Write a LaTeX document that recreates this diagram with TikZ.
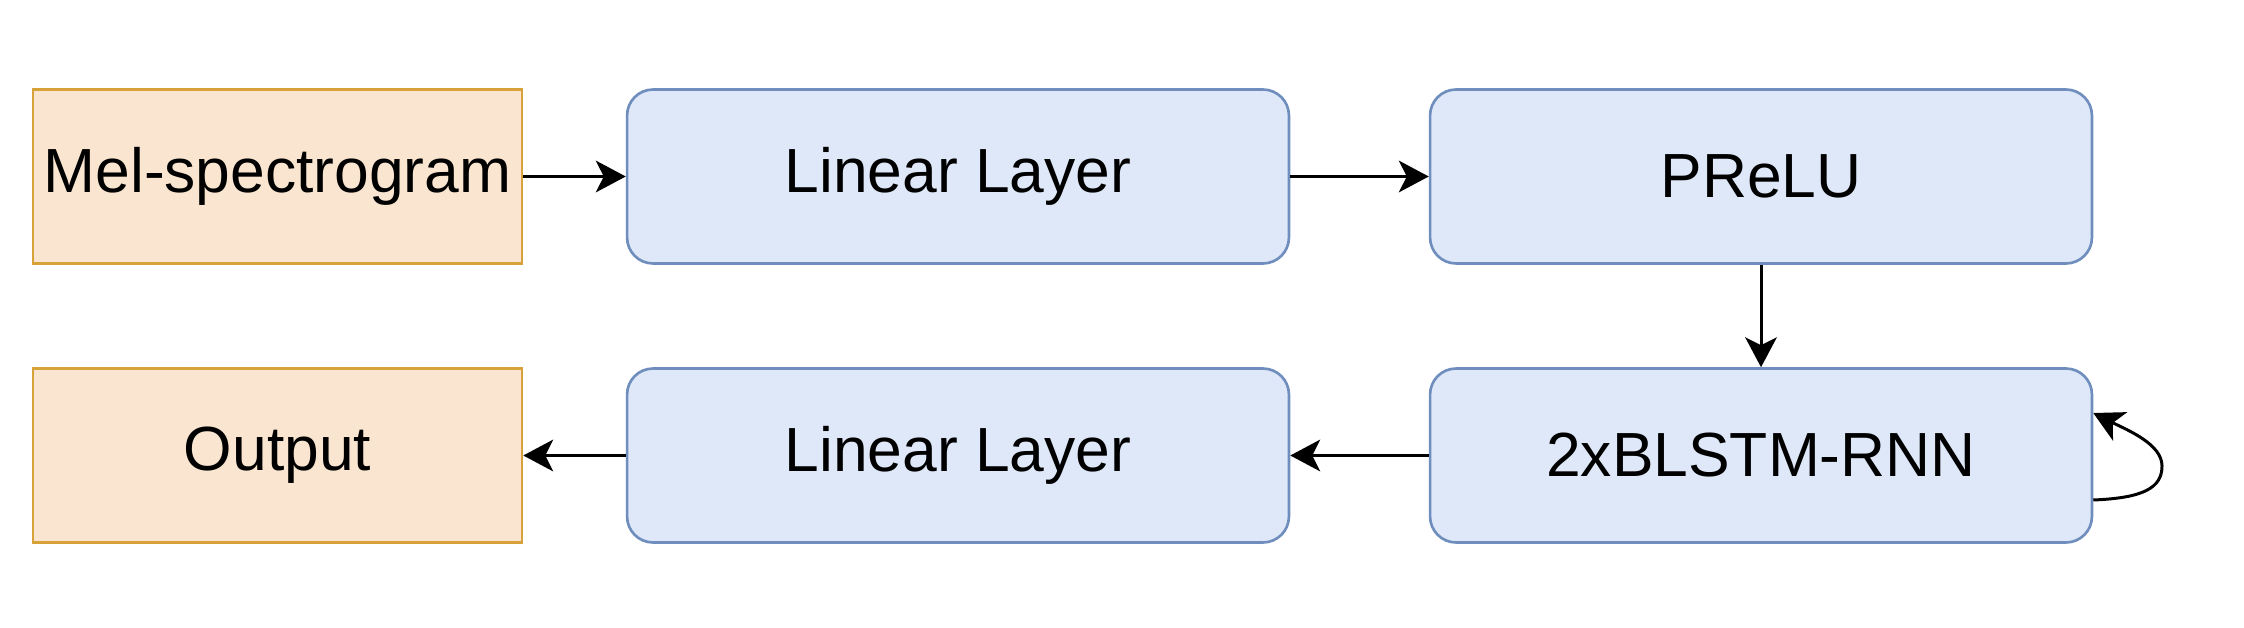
\documentclass[tikz,border=0pt]{standalone}
\usepackage{fontspec}
\setmainfont{Liberation Sans}
\usetikzlibrary{arrows.meta}
\definecolor{ofill}{HTML}{FAE6D0}
\definecolor{odraw}{HTML}{D6A239}
\definecolor{bfill}{HTML}{DEE8F8}
\definecolor{bdraw}{HTML}{6F8EBE}
\tikzset{
  iobox/.style={draw=odraw, fill=ofill, line width=1.5pt, rectangle, inner sep=0pt,
    minimum width=9.78cm, minimum height=3.48cm, font=\fontsize{35.5}{42}\selectfont},
  layerbox/.style={draw=bdraw, fill=bfill, line width=1.5pt, rectangle, rounded corners=0.52cm,
    inner sep=0pt, minimum width=13.24cm, minimum height=3.48cm, font=\fontsize{35.5}{42}\selectfont},
  flow/.style={draw=black, line width=1.7pt, -{Stealth[length=17pt, width=18pt, inset=4.5pt]}},
}
\begin{document}
\begin{tikzpicture}[x=0.02cm, y=-0.02cm]
\useasboundingbox (0,0) rectangle (2244,628);
\node[iobox] (mel) at (277.5,176.5) {Mel-spectrogram};
\node[layerbox] (lin1) at (958,176.5) {Linear Layer};
\node[layerbox] (prelu) at (1761,176.5) {PReLU};
\node[layerbox] (rnn) at (1761,455.5) {2xBLSTM-RNN};
\node[layerbox] (lin2) at (958,455.5) {Linear Layer};
\node[iobox] (out) at (277.5,455.5) {Output};
\draw[flow] (mel) -- (lin1);
\draw[flow] (lin1) -- (prelu);
\draw[flow] (prelu) -- (rnn);
\draw[flow] (rnn) -- (lin2);
\draw[flow] (lin2) -- (out);
\coordinate (ls) at ([yshift=-0.89cm]rnn.east);
\coordinate (lp) at (2162,466);
\coordinate (le) at ([yshift=0.85cm]rnn.east);
\draw[flow] (ls) .. controls +(50,-2) and +(0,22) .. (lp)
  .. controls +(0,-22) and +(34,17) .. (le);
\end{tikzpicture}
\end{document}
